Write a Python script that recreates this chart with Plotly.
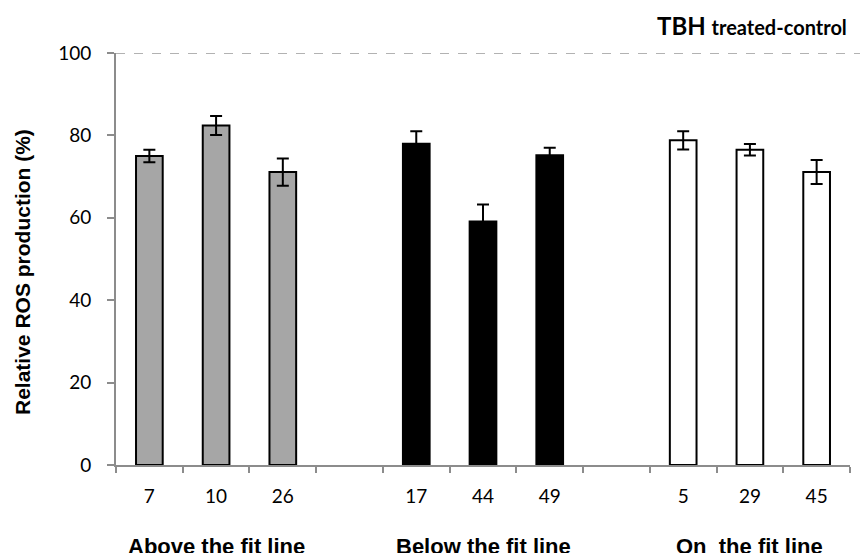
import plotly.graph_objects as go

# Data
categories = ["7", "10", "26", " ", "17", "44", "49", "  ", "5", "29", "45"]
above_labels = ["7", "10", "26"]
above_values = [75.0, 82.4, 71.1]
above_errors = [1.5, 2.3, 3.3]
below_labels = ["17", "44", "49"]
below_values = [78.0, 59.1, 75.2]
below_errors = [3.0, 4.1, 1.8]
on_labels = ["5", "29", "45"]
on_values = [78.8, 76.5, 71.1]
on_errors = [2.2, 1.4, 2.9]
group_names = ["Above the fit line", "Below the fit line", "On  the fit line"]
group_centers = ["10", "44", "29"]
y_ticks = [0, 20, 40, 60, 80, 100]

W, H = 861, 553
L, R, T, B = 116, 11, 53, 88
pw, ph = W - L - R, H - T - B

fig = go.Figure()
for labels, vals, errs, color in [
    (above_labels, above_values, above_errors, "#a6a6a6"),
    (below_labels, below_values, below_errors, "#000000"),
    (on_labels, on_values, on_errors, "#ffffff"),
]:
    fig.add_trace(go.Bar(
        x=labels, y=vals, width=0.4,
        marker=dict(color=color, line=dict(color="black", width=2)),
        error_y=dict(type="data", array=errs, visible=True, color="black",
                     thickness=2, width=6),
        showlegend=False,
    ))

fig.update_layout(
    width=W, height=H,
    margin=dict(l=L, r=R, t=T, b=B, pad=0),
    plot_bgcolor="white", paper_bgcolor="white",
    barmode="overlay",
    xaxis=dict(type="category", categoryorder="array", categoryarray=categories,
               range=[-0.5, len(categories) - 0.5],
               tickson="boundaries", ticks="outside", ticklen=6, tickwidth=2,
               tickcolor="#8c8c8c", showline=True, linecolor="#8c8c8c",
               linewidth=2, showgrid=False, ticklabelstandoff=13,
               tickfont=dict(family="Lato", size=19, color="black")),
    yaxis=dict(range=[0, 100], tickvals=y_ticks, ticks="outside", ticklen=7,
               tickwidth=2, tickcolor="#8c8c8c", showline=True,
               linecolor="#8c8c8c", linewidth=2, showgrid=False,
               zeroline=False, ticklabelstandoff=12,
               tickfont=dict(family="Lato", size=19, color="black")),
)

fig.add_shape(type="line", xref="paper", yref="y", x0=0, x1=(860 - L) / pw,
              y0=100, y1=100, line=dict(color="#666666", width=1, dash="dash"))

fig.add_annotation(text="<b>Relative ROS production (%)</b>", xref="paper",
                   yref="paper", x=(22 - L) / pw, y=(465 - 272) / ph,
                   xanchor="center", yanchor="middle",
                   textangle=-90, showarrow=False,
                   font=dict(family="Liberation Sans", size=21, color="black"))

fig.add_annotation(text="<b>TBH <span style='font-size:20px'>treated-control</span></b>",
                   xref="paper", yref="paper", x=(849 - L) / pw,
                   y=(465 - 26) / ph, xanchor="right", yanchor="middle",
                   showarrow=False,
                   font=dict(family="Lato", size=24, color="black"))

for name, c in zip(group_names, group_centers):
    fig.add_annotation(text="<b>" + name + "</b>", xref="x", yref="paper",
                       x=categories.index(c), y=(465 - 546) / ph,
                       xanchor="center", yanchor="middle", showarrow=False,
                       font=dict(family="Liberation Sans", size=22, color="black"))

fig.write_html("out.html")
